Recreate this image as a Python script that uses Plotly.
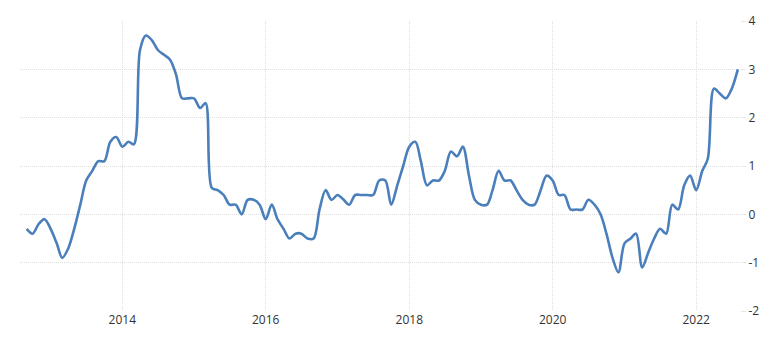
import pandas as pd
import plotly.graph_objects as go

# Monthly observations, Sep 2012 .. Aug 2022
months = pd.date_range("2012-09-01", "2022-08-01", freq="MS")

values_2012 = [-0.3, -0.4, -0.2, -0.1]
values_2013 = [-0.3, -0.6, -0.9, -0.7, -0.3, 0.2, 0.7, 0.9, 1.1, 1.1, 1.5, 1.6]
values_2014 = [1.4, 1.5, 1.45, 3.4, 3.7, 3.6, 3.4, 3.3, 3.2, 2.9, 2.4, 2.4]
values_2015 = [2.4, 2.2, 2.3, 0.55, 0.5, 0.4, 0.2, 0.2, 0.0, 0.3, 0.3, 0.2]
values_2016 = [-0.1, 0.2, -0.1, -0.3, -0.5, -0.4, -0.4, -0.5, -0.5, 0.1, 0.5, 0.3]
values_2017 = [0.4, 0.3, 0.2, 0.4, 0.4, 0.4, 0.4, 0.7, 0.7, 0.2, 0.6, 1.0]
values_2018 = [1.4, 1.5, 1.1, 0.6, 0.7, 0.7, 0.9, 1.3, 1.2, 1.4, 0.8, 0.3]
values_2019 = [0.2, 0.2, 0.5, 0.9, 0.7, 0.7, 0.5, 0.3, 0.2, 0.2, 0.5, 0.8]
values_2020 = [0.7, 0.4, 0.4, 0.1, 0.1, 0.1, 0.3, 0.2, 0.0, -0.4, -0.9, -1.2]
values_2021 = [-0.6, -0.5, -0.4, -1.1, -0.8, -0.5, -0.3, -0.4, 0.2, 0.1, 0.6, 0.8]
values_2022 = [0.5, 0.9, 1.15, 2.6, 2.5, 2.4, 2.6, 3.0]

values = (values_2012 + values_2013 + values_2014 + values_2015 + values_2016
          + values_2017 + values_2018 + values_2019 + values_2020 + values_2021
          + values_2022)

y_ticks = [-2, -1, 0, 1, 2, 3, 4]
x_tick_years = ["2014", "2016", "2018", "2020", "2022"]

fig = go.Figure()
fig.add_trace(go.Scatter(
    x=months, y=values, mode="lines",
    line=dict(color="#4a7fbb", width=2.6, shape="spline", smoothing=0.9),
    hoverinfo="skip", showlegend=False,
))

grid = "#dedede"
fig.update_layout(
    width=780, height=343,
    margin=dict(l=20, r=40, t=21, b=32),
    paper_bgcolor="white", plot_bgcolor="white",
    font=dict(family="Open Sans", size=12, color="#333333"),
    xaxis=dict(
        range=["2012-07-29", "2022-08-12"],
        tickvals=[f"{y}-01-01" for y in x_tick_years],
        ticktext=x_tick_years,
        showgrid=True, gridcolor=grid, griddash="1px,1px", gridwidth=1,
        zeroline=False, showline=False, ticks="",
    ),
    yaxis=dict(
        side="right", range=[-2, 4], tickvals=y_ticks,
        ticktext=[str(v) for v in y_ticks],
        showgrid=True, gridcolor=grid, griddash="1px,1px", gridwidth=1,
        zeroline=False, showline=False,
        ticks="outside", ticklen=5, tickcolor="#e6e6e6",
    ),
)

fig.write_html("out.html")
